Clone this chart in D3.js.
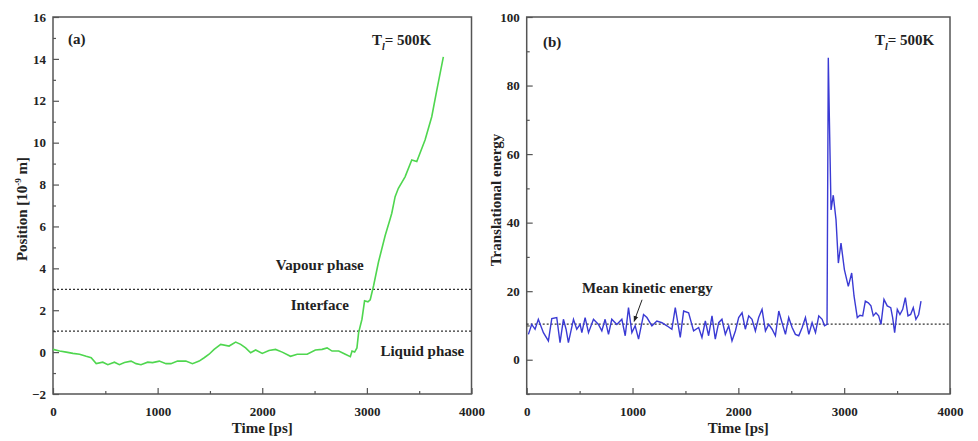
<!DOCTYPE html>
<html>
<head>
<meta charset="utf-8">
<script src="https://cdn.jsdelivr.net/npm/d3@7"></script>
<style>
  body { margin: 0; background: #fff; }
  text { font-family: "Liberation Serif", "Times New Roman", serif; font-weight: bold; fill: #222; }
</style>
</head>
<body>
<div id="chart"></div>
<script>
// panel (a): position of the particle
const posTime = [0, 63, 127, 190, 254, 317, 365, 413, 476, 524, 587, 635, 683, 746, 794, 841, 905, 952,
  1016, 1080, 1127, 1190, 1270, 1333, 1397, 1445, 1492, 1540, 1603, 1683, 1746, 1794, 1841, 1889, 1937,
  2000, 2064, 2127, 2191, 2270, 2334, 2429, 2508, 2572, 2620, 2667, 2731, 2794, 2842, 2858, 2883, 2905,
  2921, 2953, 2978, 3010, 3032, 3064, 3111, 3175, 3223, 3238, 3270, 3301, 3365, 3429, 3477, 3556, 3620,
  3668, 3731];
const posValue = [0.13, 0.05, 0, -0.06, -0.1, -0.2, -0.27, -0.55, -0.48, -0.6, -0.48, -0.6, -0.5, -0.43,
  -0.55, -0.6, -0.48, -0.5, -0.43, -0.55, -0.55, -0.43, -0.43, -0.55, -0.43, -0.27, -0.1, 0.13, 0.37, 0.29,
  0.48, 0.37, 0.2, -0.03, 0.1, -0.06, 0.08, 0.13, 0, -0.2, -0.1, -0.1, 0.1, 0.13, 0.2, 0.05, 0.05, -0.1,
  -0.22, 0.05, 0, 0.2, 0.93, 1.57, 2.45, 2.4, 2.5, 3.17, 4.3, 5.57, 6.37, 6.63, 7.42, 7.82, 8.37, 9.17,
  9.1, 10.13, 11.24, 12.5, 14.1];
const phaseBounds = [1, 3];

// panel (b): translational energy
const enTime = [16, 47, 79, 110, 158, 205, 237, 284, 315, 347, 372, 394, 442, 473, 505, 521, 552, 584,
  631, 678, 710, 741, 773, 804, 852, 899, 931, 962, 994, 1025, 1057, 1104, 1136, 1183, 1230, 1278, 1325,
  1372, 1404, 1451, 1483, 1530, 1577, 1625, 1656, 1688, 1719, 1751, 1782, 1814, 1845, 1877, 1909, 1940,
  1972, 2003, 2035, 2066, 2098, 2129, 2161, 2192, 2224, 2256, 2287, 2319, 2350, 2382, 2413, 2445, 2476,
  2508, 2539, 2571, 2603, 2634, 2666, 2697, 2729, 2760, 2792, 2814, 2838, 2850, 2860, 2876, 2897, 2923,
  2945, 2970, 3002, 3039, 3071, 3093, 3124, 3149, 3175, 3200, 3228, 3253, 3275, 3300, 3326, 3348, 3376,
  3407, 3440, 3458, 3477, 3502, 3527, 3553, 3578, 3603, 3628, 3653, 3678, 3704, 3726];
const enValue = [7.4, 10.3, 8.9, 11.8, 7.9, 5.5, 12.0, 12.3, 5.0, 11.8, 8.9, 5.0, 11.8, 8.9, 10.3, 7.9,
  12.3, 7.9, 11.8, 10.3, 8.4, 11.8, 7.4, 11.8, 10.3, 11.8, 7.0, 15.2, 7.9, 9.9, 6.0, 13.2, 12.3, 9.9, 11.3,
  10.8, 9.9, 8.9, 15.2, 6.5, 14.2, 13.7, 8.4, 9.4, 6.5, 11.3, 7.0, 12.8, 6.0, 10.8, 11.8, 7.4, 9.9, 5.5,
  8.4, 12.3, 13.7, 8.9, 12.8, 11.8, 8.4, 12.3, 14.7, 8.4, 10.3, 8.9, 7.0, 14.2, 10.8, 7.4, 12.3, 9.4, 7.4,
  7.0, 9.4, 12.3, 7.4, 10.8, 7.9, 12.8, 11.8, 9.9, 10.3, 88.1, 70.7, 43.7, 48, 40.8, 28.2, 34, 26.3, 21.4,
  25.3, 18.6, 12.3, 12.96, 12.8, 17.1, 16.6, 15.7, 12.8, 13.7, 12.8, 10.3, 17.6, 15.7, 15.2, 12.3, 7.9,
  14.7, 13.2, 14.7, 18.1, 12.8, 13.2, 15.2, 11.8, 13.2, 17.1];
const meanEnergy = 10.4;

const xMajor = [0, 1000, 2000, 3000, 4000];
const xMinor = [500, 1500, 2500, 3500];
const posTicks = [-2, 0, 2, 4, 6, 8, 10, 12, 14, 16];
const posMinor = [-1, 1, 3, 5, 7, 9, 11, 13, 15];
const enTicks = [0, 20, 40, 60, 80, 100];
const enMinor = [-10, 10, 30, 50, 70, 90];

const width = 978, height = 441;
const plotTop = 17, plotBottom = 394;
const frameColor = "#555";

const svg = d3.select("#chart").append("svg")
  .attr("width", width)
  .attr("height", height);

function drawFrame(x, y, majX, minX, majY, minY) {
  const g = svg.append("g");
  // bottom axis, ticks pointing inward
  g.append("g")
    .attr("transform", `translate(0, ${plotBottom})`)
    .call(d3.axisBottom(x).tickValues(minX).tickSize(-3).tickFormat(""));
  g.append("g")
    .attr("transform", `translate(0, ${plotBottom})`)
    .call(d3.axisBottom(x).tickValues(majX).tickSize(-6).tickPadding(13).tickFormat(d3.format("d")));
  // left axis
  g.append("g")
    .attr("transform", `translate(${x.range()[0]}, 0)`)
    .call(d3.axisLeft(y).tickValues(minY).tickSize(-3).tickFormat(""));
  g.append("g")
    .attr("transform", `translate(${x.range()[0]}, 0)`)
    .call(d3.axisLeft(y).tickValues(majY).tickSize(-6).tickPadding(7).tickFormat(d3.format("d")));
  g.selectAll(".domain").remove();
  g.selectAll(".tick line").attr("stroke", frameColor).attr("stroke-width", 1.2);
  g.selectAll(".tick text")
    .attr("font-size", 13)
    .attr("font-family", "Liberation Serif, serif")
    .attr("font-weight", "bold")
    .attr("fill", "#222");
  // box
  g.append("rect")
    .attr("x", x.range()[0])
    .attr("y", plotTop)
    .attr("width", x.range()[1] - x.range()[0])
    .attr("height", plotBottom - plotTop)
    .attr("fill", "none")
    .attr("stroke", frameColor)
    .attr("stroke-width", 1.5);
}

function tempLabel(xPos) {
  const t = svg.append("text").attr("x", xPos).attr("y", 45).attr("font-size", 15);
  t.append("tspan").text("T");
  t.append("tspan").attr("dy", 5).attr("font-size", 10).attr("font-style", "italic").text("l");
  t.append("tspan").attr("dy", -5).text("= 500K");
}

/* PANEL (a) */
const xA = d3.scaleLinear().domain([0, 4000]).range([53, 471.5]);
const yA = d3.scaleLinear().domain([-2, 16]).range([plotBottom, plotTop]);
drawFrame(xA, yA, xMajor, xMinor, posTicks, posMinor);

svg.selectAll("line.phase")
  .data(phaseBounds)
  .join("line")
  .attr("class", "phase")
  .attr("x1", xA(0))
  .attr("x2", xA(4000))
  .attr("y1", d => yA(d))
  .attr("y2", d => yA(d))
  .attr("stroke", "#333")
  .attr("stroke-width", 1.2)
  .attr("stroke-dasharray", "2,2");

svg.append("path")
  .datum(posTime.map((t, i) => [t, posValue[i]]))
  .attr("fill", "none")
  .attr("stroke", "#4fd64f")
  .attr("stroke-width", 1.6)
  .attr("d", d3.line().x(d => xA(d[0])).y(d => yA(d[1])));

svg.append("text").attr("x", 68).attr("y", 44).attr("font-size", 15).text("(a)");
tempLabel(372);
svg.append("text").attr("x", xA(2550)).attr("y", yA(3.9)).attr("text-anchor", "middle").attr("font-size", 15).text("Vapour phase");
svg.append("text").attr("x", xA(2550)).attr("y", yA(2.0)).attr("text-anchor", "middle").attr("font-size", 15).text("Interface");
svg.append("text").attr("x", xA(3530)).attr("y", yA(-0.2)).attr("text-anchor", "middle").attr("font-size", 15).text("Liquid phase");

svg.append("text")
  .attr("x", xA(2000))
  .attr("y", 433)
  .attr("text-anchor", "middle")
  .attr("font-size", 15)
  .text("Time [ps]");

const yLabA = svg.append("text")
  .attr("transform", "translate(27, 209) rotate(-90)")
  .attr("text-anchor", "middle")
  .attr("font-size", 15);
yLabA.append("tspan").text("Position [10");
yLabA.append("tspan").attr("dy", -6).attr("font-size", 9).text("-9");
yLabA.append("tspan").attr("dy", 6).text(" m]");

/* PANEL (b) */
const xB = d3.scaleLinear().domain([0, 4000]).range([526.7, 950]);
const yB = d3.scaleLinear().domain([-10, 100]).range([plotBottom, plotTop]);
drawFrame(xB, yB, xMajor, xMinor, enTicks, enMinor);

svg.append("line")
  .attr("x1", xB(0))
  .attr("x2", xB(4000))
  .attr("y1", yB(meanEnergy))
  .attr("y2", yB(meanEnergy))
  .attr("stroke", "#333")
  .attr("stroke-width", 1.2)
  .attr("stroke-dasharray", "2,2");

svg.append("path")
  .datum(enTime.map((t, i) => [t, enValue[i]]))
  .attr("fill", "none")
  .attr("stroke", "#3a3ad4")
  .attr("stroke-width", 1.4)
  .attr("d", d3.line().x(d => xB(d[0])).y(d => yB(d[1])));

svg.append("text").attr("x", 543).attr("y", 47).attr("font-size", 15).text("(b)");
tempLabel(875);

svg.append("text")
  .attr("x", xB(1140))
  .attr("y", yB(19.6))
  .attr("text-anchor", "middle")
  .attr("font-size", 15)
  .text("Mean kinetic energy");

// arrow from the label down to the mean line
svg.append("defs").append("marker")
  .attr("id", "arrowhead")
  .attr("viewBox", "0 0 10 10")
  .attr("refX", 9).attr("refY", 5)
  .attr("markerWidth", 6).attr("markerHeight", 6)
  .attr("orient", "auto")
  .append("path")
  .attr("d", "M0,1 L10,5 L0,9 Z")
  .attr("fill", "#222");

svg.append("line")
  .attr("x1", xB(1090)).attr("y1", yB(17.5))
  .attr("x2", xB(1015)).attr("y2", yB(11.2))
  .attr("stroke", "#222")
  .attr("stroke-width", 1)
  .attr("marker-end", "url(#arrowhead)");

svg.append("text")
  .attr("x", xB(2000))
  .attr("y", 433)
  .attr("text-anchor", "middle")
  .attr("font-size", 15)
  .text("Time [ps]");

svg.append("text")
  .attr("transform", "translate(501, 200) rotate(-90)")
  .attr("text-anchor", "middle")
  .attr("font-size", 15)
  .text("Translational energy");
</script>
</body>
</html>
